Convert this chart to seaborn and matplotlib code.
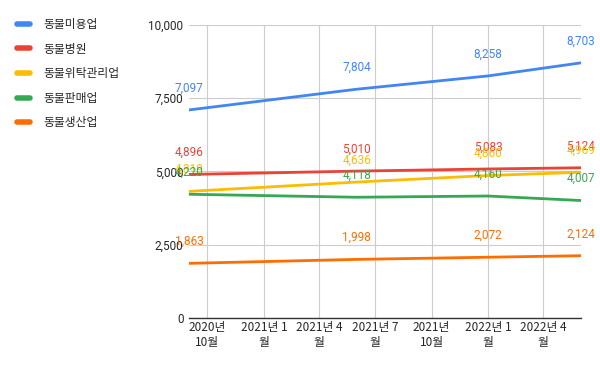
import pandas as pd
import numpy as np
import matplotlib
matplotlib.use("Agg")
import matplotlib.pyplot as plt
import matplotlib.dates as mdates
import matplotlib.ticker as mticker
import seaborn as sns

# 데이터
dates = ["2020-09-01", "2021-06-01", "2022-01-01", "2022-06-01"]
series_names = ["동물미용업", "동물병원", "동물위탁관리업", "동물판매업", "동물생산업"]
grooming = [7097, 7804, 8258, 8703]
hospital = [4896, 5010, 5083, 5124]
boarding = [4319, 4636, 4860, 4969]
sales = [4220, 4118, 4160, 4007]
breeding = [1863, 1998, 2072, 2124]
tick_dates = ["2020-10-01", "2021-01-01", "2021-04-01", "2021-07-01",
              "2021-10-01", "2022-01-01", "2022-04-01"]
tick_labels = ["2020년\n10월", "2021년 1\n월", "2021년 4\n월", "2021년 7\n월",
               "2021년\n10월", "2022년 1\n월", "2022년 4\n월"]
colors = ["#4285f4", "#ea4335", "#fbbc04", "#34a853", "#ff6d01"]

values = [grooming, hospital, boarding, sales, breeding]
df = pd.DataFrame({
    "date": pd.to_datetime(dates * len(series_names)),
    "업종": np.repeat(series_names, len(dates)),
    "count": np.concatenate(values),
})

sns.set_style("white")
plt.rcParams["font.family"] = ["Noto Sans CJK KR", "DejaVu Sans"]

fig = plt.figure(figsize=(6, 3.71), dpi=100)
ax = fig.add_axes([0.315, 0.143, 0.653, 0.79])

sns.lineplot(data=df, x="date", y="count", hue="업종", hue_order=series_names,
             palette=colors, linewidth=2, ax=ax, legend=False)

# 데이터 라벨
for name, vals, c in zip(series_names, values, colors):
    for d, v in zip(pd.to_datetime(dates), vals):
        ax.annotate(f"{v:,}", (mdates.date2num(d), v), xytext=(0, 11),
                    textcoords="offset points", ha="center", va="bottom",
                    color=c, fontsize=8.5, family=["Roboto", "DejaVu Sans"])

ax.set_ylim(0, 10000)
ax.yaxis.set_major_locator(mticker.MultipleLocator(2500))
ax.yaxis.set_major_formatter(mticker.FuncFormatter(lambda v, p: f"{int(v):,}"))
ax.set_xlim(pd.to_datetime(dates[0]), pd.to_datetime(dates[-1]))
ax.set_xticks(pd.to_datetime(tick_dates))
ax.set_xticklabels(tick_labels, fontsize=8.5, linespacing=1.25)
for lab in ax.get_yticklabels():
    lab.set_family(["Roboto", "DejaVu Sans"])
ax.tick_params(axis="y", labelsize=8.5, length=0, pad=4)
ax.tick_params(axis="x", length=0, pad=2)
ax.set_xlabel("")
ax.set_ylabel("")
ax.grid(True, color="#cccccc", linewidth=0.8)
for s in ["top", "right", "left"]:
    ax.spines[s].set_visible(False)
ax.spines["bottom"].set_color("#333333")
ax.spines["bottom"].set_linewidth(1)

# 범례
handles = [plt.Line2D([], [], color=c, linewidth=4) for c in colors]
fig.legend(handles, series_names, loc="upper left", bbox_to_anchor=(0.01, 0.98),
           frameon=False, fontsize=8.5, handlelength=1.1, handletextpad=1.2,
           labelspacing=0.98)

plt.savefig("out.png", dpi=100)
